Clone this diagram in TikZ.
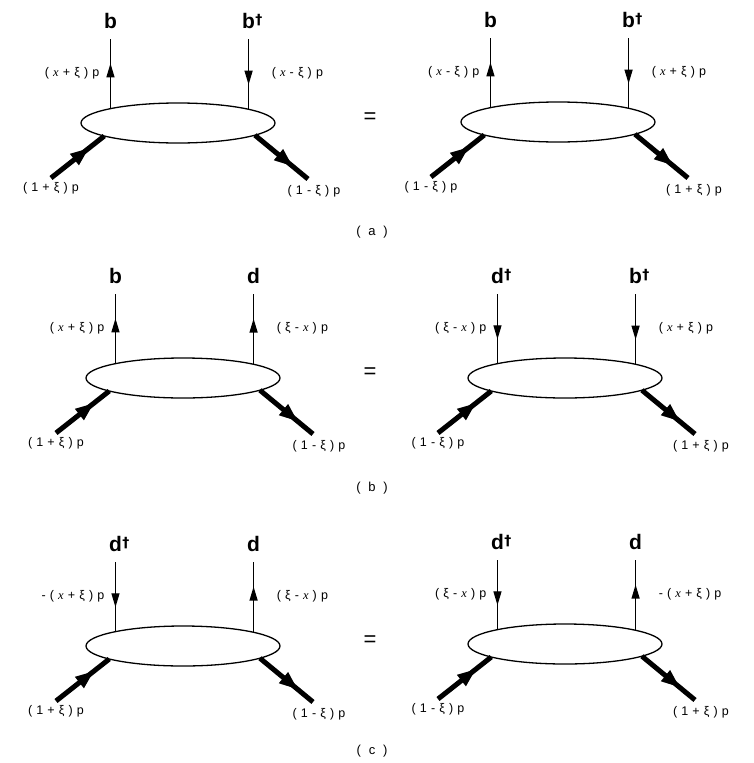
\documentclass[tikz,border=0pt]{standalone}
\usepackage{fontspec}
\setmainfont{Liberation Sans}
\newfontfamily\serifx{Liberation Serif}
\newfontfamily\dagfont{DejaVu Sans}
\usetikzlibrary{shapes.geometric,arrows.meta,decorations.markings}
\newcommand\vx{{\serifx\itshape x}}
\newcommand\gp{\hspace{0.33em}}
\newcommand\dg{\rlap{\hspace{0.5pt}\raisebox{4.5pt}{\dagfont\bfseries\fontsize{14}{14}\selectfont †}}}
\tikzset{
  blob/.style={ellipse, draw, line width=1.3pt, minimum width=194pt, minimum height=40pt, inner sep=0pt, outer sep=0pt},
  quark/.style={line width=1.3pt, decoration={markings, mark=at position 0.65 with {\arrow{Triangle[width=8pt,length=14pt]}}}, postaction={decorate}},
  hadron/.style={line width=5pt, decoration={markings, mark=at position 0.72 with {\arrow{Triangle[width=13pt,length=19pt]}}}, postaction={decorate}},
  flav/.style={font=\bfseries\fontsize{21}{22}\selectfont, inner sep=0pt, anchor=south},
  mom/.style={font=\fontsize{12.5}{14}\selectfont, inner sep=0pt},
  capt/.style={font=\fontsize{13}{15}\selectfont, inner sep=0pt},
  eqsign/.style={font=\fontsize{22}{24}\selectfont, inner sep=0pt},
}
\begin{document}
\begin{tikzpicture}[x=1pt,y=-1pt]
\useasboundingbox (0,0) rectangle (754,763);

% ---------------- (a) left
\node[blob] (A) at (178,123) {};
\coordinate (A-lt) at (A.168.15 |- 0,39);
\coordinate (A-rt) at (A.11.85 |- 0,39);
\coordinate (A-li) at (51,178);
\coordinate (A-ro) at (308,179);
\draw[quark] (A.168.15) -- (A-lt);
\draw[quark] (A-rt) -- (A.11.85);
\draw[hadron] (A-li) -- (A.190.2);
\draw[hadron] (A.351) -- (A-ro);
\node[flav] (A-lf) at ([yshift=10pt]A-lt) {b};
\node[flav] (A-rf) at ([yshift=10pt]A-rt) {b\dg};
\node[mom, anchor=east] (A-lm) at ([xshift=-11pt,yshift=-34pt]A-lt) {(\gp\vx\gp+\gp ξ\gp)\gp p};
\node[mom, anchor=west] (A-rm) at ([xshift=23pt,yshift=-34pt]A-rt) {(\gp\vx\gp-\gp ξ\gp)\gp p};
\node[mom] (A-lb) at ([yshift=-10pt]A-li) {(\gp 1\gp+\gp ξ\gp)\gp p};
\node[mom] (A-rb) at ([xshift=6pt,yshift=-12pt]A-ro) {(\gp 1\gp-\gp ξ\gp)\gp p};

\node[eqsign] (eqa) at (370,118) {=};

% ---------------- (a) right
\node[blob] (B) at (558,122) {};
\coordinate (B-lt) at (B.168.15 |- 0,38);
\coordinate (B-rt) at (B.11.85 |- 0,38);
\coordinate (B-li) at (431,177);
\coordinate (B-ro) at (688,178);
\draw[quark] (B.168.15) -- (B-lt);
\draw[quark] (B-rt) -- (B.11.85);
\draw[hadron] (B-li) -- (B.190.2);
\draw[hadron] (B.351) -- (B-ro);
\node[flav] (B-lf) at ([yshift=10pt]B-lt) {b};
\node[flav] (B-rf) at ([yshift=10pt]B-rt) {b\dg};
\node[mom, anchor=east] (B-lm) at ([xshift=-11pt,yshift=-34pt]B-lt) {(\gp\vx\gp-\gp ξ\gp)\gp p};
\node[mom, anchor=west] (B-rm) at ([xshift=23pt,yshift=-34pt]B-rt) {(\gp\vx\gp+\gp ξ\gp)\gp p};
\node[mom] (B-lb) at ([yshift=-10pt]B-li) {(\gp 1\gp-\gp ξ\gp)\gp p};
\node[mom] (B-rb) at ([xshift=6pt,yshift=-12pt]B-ro) {(\gp 1\gp+\gp ξ\gp)\gp p};

\node[capt] (capa) at (372,232) {(\hspace{0.6em}a\hspace{0.6em})};

% ---------------- (b) left
\node[blob] (C) at (183,378) {};
\coordinate (C-lt) at (C.168.15 |- 0,294);
\coordinate (C-rt) at (C.11.85 |- 0,294);
\coordinate (C-li) at (56,433);
\coordinate (C-ro) at (313,434);
\draw[quark] (C.168.15) -- (C-lt);
\draw[quark] (C.11.85) -- (C-rt);
\draw[hadron] (C-li) -- (C.190.2);
\draw[hadron] (C.351) -- (C-ro);
\node[flav] (C-lf) at ([yshift=10pt]C-lt) {b};
\node[flav] (C-rf) at ([yshift=10pt]C-rt) {d};
\node[mom, anchor=east] (C-lm) at ([xshift=-11pt,yshift=-34pt]C-lt) {(\gp\vx\gp+\gp ξ\gp)\gp p};
\node[mom, anchor=west] (C-rm) at ([xshift=23pt,yshift=-34pt]C-rt) {(\gp ξ\gp-\gp\vx\gp)\gp p};
\node[mom] (C-lb) at ([yshift=-10pt]C-li) {(\gp 1\gp+\gp ξ\gp)\gp p};
\node[mom] (C-rb) at ([xshift=6pt,yshift=-12pt]C-ro) {(\gp 1\gp-\gp ξ\gp)\gp p};

\node[eqsign] (eqb) at (370,373) {=};

% ---------------- (b) right
\node[blob] (D) at (565,378) {};
\coordinate (D-lt) at (D.168.15 |- 0,294);
\coordinate (D-rt) at (D.11.85 |- 0,294);
\coordinate (D-li) at (438,433);
\coordinate (D-ro) at (695,434);
\draw[quark] (D-lt) -- (D.168.15);
\draw[quark] (D-rt) -- (D.11.85);
\draw[hadron] (D-li) -- (D.190.2);
\draw[hadron] (D.351) -- (D-ro);
\node[flav] (D-lf) at ([yshift=10pt]D-lt) {d\dg};
\node[flav] (D-rf) at ([yshift=10pt]D-rt) {b\dg};
\node[mom, anchor=east] (D-lm) at ([xshift=-11pt,yshift=-34pt]D-lt) {(\gp ξ\gp-\gp\vx\gp)\gp p};
\node[mom, anchor=west] (D-rm) at ([xshift=23pt,yshift=-34pt]D-rt) {(\gp\vx\gp+\gp ξ\gp)\gp p};
\node[mom] (D-lb) at ([yshift=-10pt]D-li) {(\gp 1\gp-\gp ξ\gp)\gp p};
\node[mom] (D-rb) at ([xshift=6pt,yshift=-12pt]D-ro) {(\gp 1\gp+\gp ξ\gp)\gp p};

\node[capt] (capb) at (372,488) {(\hspace{0.6em}b\hspace{0.6em})};

% ---------------- (c) left
\node[blob] (E) at (183,646) {};
\coordinate (E-lt) at (E.168.15 |- 0,562);
\coordinate (E-rt) at (E.11.85 |- 0,562);
\coordinate (E-li) at (56,701);
\coordinate (E-ro) at (313,702);
\draw[quark] (E-lt) -- (E.168.15);
\draw[quark] (E.11.85) -- (E-rt);
\draw[hadron] (E-li) -- (E.190.2);
\draw[hadron] (E.351) -- (E-ro);
\node[flav] (E-lf) at ([yshift=10pt]E-lt) {d\dg};
\node[flav] (E-rf) at ([yshift=10pt]E-rt) {d};
\node[mom, anchor=east] (E-lm) at ([xshift=-11pt,yshift=-34pt]E-lt) {-\gp(\gp\vx\gp+\gp ξ\gp)\gp p};
\node[mom, anchor=west] (E-rm) at ([xshift=23pt,yshift=-34pt]E-rt) {(\gp ξ\gp-\gp\vx\gp)\gp p};
\node[mom] (E-lb) at ([yshift=-10pt]E-li) {(\gp 1\gp+\gp ξ\gp)\gp p};
\node[mom] (E-rb) at ([xshift=6pt,yshift=-12pt]E-ro) {(\gp 1\gp-\gp ξ\gp)\gp p};

\node[eqsign] (eqc) at (370,641) {=};

% ---------------- (c) right
\node[blob] (F) at (565,644) {};
\coordinate (F-lt) at (F.168.15 |- 0,560);
\coordinate (F-rt) at (F.11.85 |- 0,560);
\coordinate (F-li) at (438,699);
\coordinate (F-ro) at (695,700);
\draw[quark] (F-lt) -- (F.168.15);
\draw[quark] (F.11.85) -- (F-rt);
\draw[hadron] (F-li) -- (F.190.2);
\draw[hadron] (F.351) -- (F-ro);
\node[flav] (F-lf) at ([yshift=10pt]F-lt) {d\dg};
\node[flav] (F-rf) at ([yshift=10pt]F-rt) {d};
\node[mom, anchor=east] (F-lm) at ([xshift=-11pt,yshift=-34pt]F-lt) {(\gp ξ\gp-\gp\vx\gp)\gp p};
\node[mom, anchor=west] (F-rm) at ([xshift=23pt,yshift=-34pt]F-rt) {-\gp(\gp\vx\gp+\gp ξ\gp)\gp p};
\node[mom] (F-lb) at ([yshift=-10pt]F-li) {(\gp 1\gp-\gp ξ\gp)\gp p};
\node[mom] (F-rb) at ([xshift=6pt,yshift=-12pt]F-ro) {(\gp 1\gp+\gp ξ\gp)\gp p};

\node[capt] (capc) at (372,751) {(\hspace{0.6em}c\hspace{0.6em})};
\end{tikzpicture}
\end{document}
